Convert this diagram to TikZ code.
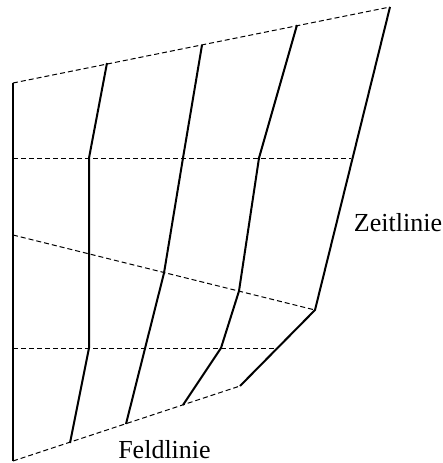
\documentclass[tikz,border=0pt]{standalone}
\usepackage{fontspec}
\setmainfont{Liberation Serif}
\begin{document}
\begin{tikzpicture}[x=1pt,y=-1pt,
  solidline/.style={line width=2pt,line join=miter},
  dashline/.style={line width=1pt,dash pattern=on 5pt off 3pt},
  lbl/.style={font=\fontsize{26}{30}\selectfont,inner sep=0pt,anchor=base}]
\useasboundingbox (0,0) rectangle (443,463);
% left boundary
\coordinate (L0) at (13,83);
\coordinate (L1) at (13,158);
\coordinate (L2) at (13,235);
\coordinate (L3) at (13,348);
\coordinate (L4) at (13,461);
% field line 1
\coordinate (A0) at (107,63);
\coordinate (A1) at (89,158);
\coordinate (A3) at (89,348);
\coordinate (A4) at (70,443);
% field line 2
\coordinate (B0) at (202,45);
\coordinate (B1) at (183,158);
\coordinate (B2) at (164,273);
\coordinate (B4) at (126,424);
% field line 3
\coordinate (C0) at (297,25);
\coordinate (C1) at (259,158);
\coordinate (C2) at (239,291);
\coordinate (C3) at (221,348);
\coordinate (C4) at (183,405);
% field line 4
\coordinate (D0) at (390,7);
\coordinate (D1) at (351,158);
\coordinate (D2) at (315,310);
\coordinate (D3) at (278,348);
\coordinate (D4) at (240,386);
% time lines (dashed)
\draw[dashline] (L0) -- (D0);
\draw[dashline] (L1) -- (D1);
\draw[dashline] (L2) -- (D2);
\draw[dashline] (L3) -- (D3);
\draw[dashline] (L4) -- (D4);
% field lines (solid)
\draw[solidline] (L0) -- (L4);
\draw[solidline] (A0) -- (A1) -- (A3) -- (A4);
\draw[solidline] (B0) -- (B1) -- (B2) -- (B4);
\draw[solidline] (C0) -- (C1) -- (C2) -- (C3) -- (C4);
\draw[solidline] (D0) -- (D2) -- (D4);
% labels
\node[lbl] (zeit) at (398,231) {Zeitlinie};
\node[lbl] (feld) at (164.5,458) {Feldlinie};
\end{tikzpicture}
\end{document}
